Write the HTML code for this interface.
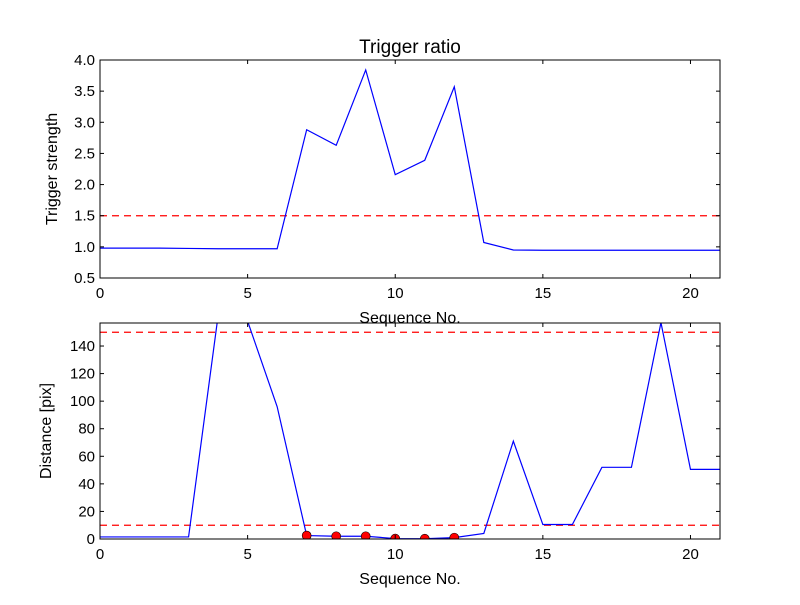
<!DOCTYPE html>
<html><head><meta charset="utf-8"><style>
body{margin:0;background:#fff}
svg{font-family:"Liberation Sans","DejaVu Sans",sans-serif}
</style></head><body>
<svg id="c" width="800" height="600" viewBox="0 0 800 600">
<rect width="800" height="600" fill="#fff"/>
</svg>
<script>
const xs=[0,1,2,3,4,5,6,7,8,9,10,11,12,13,14,15,16,17,18,19,20,21];
const ratio=[0.98,0.98,0.98,0.975,0.97,0.97,0.97,2.88,2.63,3.84,2.16,2.39,3.57,1.07,0.95,0.945,0.945,0.945,0.945,0.945,0.945,0.945];
const dist=[1.5,1.5,1.5,1.5,162,158,96,2.5,2,2,0.3,0.2,1,4,71,10.5,10.5,52,52,157,50.5,50.5];
const markIdx=[7,8,9,10,11,12];
const topYTicks=[0.5,1.0,1.5,2.0,2.5,3.0,3.5,4.0];
const botYTicks=[0,20,40,60,80,100,120,140];
const xTicks=[0,5,10,15,20];
const ratioThr=[1.5];
const distThr=[10,150];
const svg=document.getElementById('c');const NS='http://www.w3.org/2000/svg';
function mk(t,a,p){const e=document.createElementNS(NS,t);for(const k in a)e.setAttribute(k,a[k]);(p||svg).appendChild(e);return e;}
function panel(y0,y1,ymin,ymax,yt,fmt,data,thr,ylab,title,pname,marks){
 const X=v=>100+(v-0)/21*620, Y=v=>y1-(v-ymin)/(ymax-ymin)*(y1-y0);
 const g=mk('g',{});
 const cid='clip'+pname;const cp=mk('clipPath',{id:cid},g);mk('rect',{x:100,y:y0,width:620,height:y1-y0},cp);
 const pg=mk('g',{'clip-path':'url(#'+cid+')'},g);
 thr.forEach(t=>{const l=mk('line',{x1:100,x2:720,y1:Y(t),y2:Y(t),stroke:'#f00','stroke-width':1.2,'stroke-dasharray':'7,5'},pg);});
 const pl=mk('polyline',{points:xs.map((x,i)=>X(x)+','+Y(data[i])).join(' '),fill:'none',stroke:'#00f','stroke-width':1.2},pg);
 
 if(marks)marks.forEach(i=>{const c=mk('circle',{cx:X(xs[i]),cy:Y(data[i]),r:4.5,fill:'#f00',stroke:'#000','stroke-width':0.6},pg);});
 mk('rect',{x:100,y:y0,width:620,height:y1-y0,fill:'none',stroke:'#000','stroke-width':1},g);
 yt.forEach(v=>{const y=Y(v);mk('line',{x1:100,x2:104,y1:y,y2:y,stroke:'#000'},g);mk('line',{x1:716,x2:720,y1:y,y2:y,stroke:'#000'},g);
  const t=mk('text',{x:95,y:y+5,'text-anchor':'end','font-size':15},g);t.textContent=fmt(v);});
 xTicks.forEach(v=>{const x=X(v);mk('line',{x1:x,x2:x,y1:y1,y2:y1-4,stroke:'#000'},g);mk('line',{x1:x,x2:x,y1:y0,y2:y0+4,stroke:'#000'},g);
  const t=mk('text',{x:x,y:y1+20,'text-anchor':'middle','font-size':15},g);t.textContent=v;});
 const xl=mk('text',{x:410,y:y1+45,'text-anchor':'middle','font-size':16},g);xl.textContent='Sequence No.';
 const yl=mk('text',{x:0,y:0,'text-anchor':'middle','font-size':16,transform:'translate('+(ylab[1])+','+((y0+y1)/2)+') rotate(-90)'},g);yl.textContent=ylab[0];
 if(title){const t=mk('text',{x:410,y:y0-7,'text-anchor':'middle','font-size':19},g);t.textContent=title;}
}
panel(60,278,0.5,4.0,topYTicks,v=>v.toFixed(1),ratio,ratioThr,['Trigger strength',57],'Trigger ratio','top-panel',null);
panel(323,539,0,156.7,botYTicks,v=>String(v),dist,distThr,['Distance [pix]',51],null,'bottom-panel',markIdx);
</script>
</body></html>
